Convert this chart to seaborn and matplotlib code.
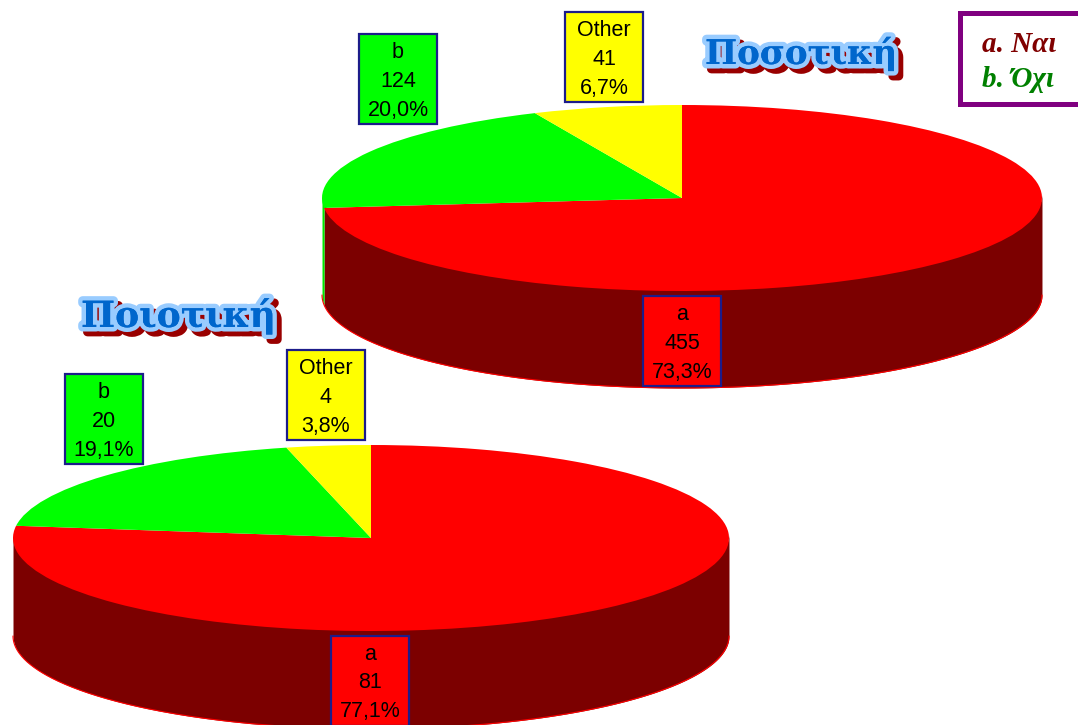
import numpy as np
import matplotlib
matplotlib.use("Agg")
import matplotlib.pyplot as plt
import matplotlib.patheffects as pe
from matplotlib.patches import Rectangle
import seaborn as sns

FIG_W, FIG_H = 1078, 725

# Survey answers per slice
slice_names = ["a", "b", "Other"]
quant_counts = [455, 124, 41]
quant_percent = [73.3, 20.0, 6.7]
qual_counts = [81, 20, 4]
qual_percent = [77.1, 19.1, 3.8]
quant_title = "Ποσοτική"
qual_title = "Ποιοτική"
legend_lines = ["a. Ναι", "b. Όχι"]

sns.set_theme(style="white", rc={"figure.facecolor": "white", "axes.facecolor": "none"})
plt.rcParams["font.family"] = ["Liberation Sans", "DejaVu Sans"]

top_colors = sns.color_palette(["#ff0000", "#00ff00", "#ffff00"])
side_colors = sns.color_palette(["#7c0000", "#00e800", "#ffff00"])

fig = plt.figure(figsize=(FIG_W / 100, FIG_H / 100), dpi=100)


def pixel_axes(left, top, width, height, zorder=1):
    ax = fig.add_axes([left / FIG_W, 1 - (top + height) / FIG_H, width / FIG_W, height / FIG_H])
    ax.set_zorder(zorder)
    ax.set_axis_off()
    return ax


def tilted_pie(cx, cy, rx, ry, depth, percents):
    """Flattened pie with a visible side wall below the front edge."""
    ax = pixel_axes(cx - rx, cy - ry, 2 * rx, 2 * ry + depth)
    drop = depth / ry

    # Side wall: front half of the ellipse, split where each slice ends.
    # The wall runs slightly under the top face so no seam shows between them.
    ends = 90 - 3.6 * np.cumsum(percents)
    starts = np.r_[90, ends[:-1]]
    for a0, a1, shade in zip(starts, ends, side_colors):
        theta = np.radians(np.linspace(a0, a1, 400))
        front = np.sin(theta) <= 0
        if front.any():
            xs, ys = np.cos(theta[front]), np.sin(theta[front])
            order = np.argsort(xs)
            ax.fill_between(xs[order], ys[order] - drop, ys[order] + 0.05,
                            color=shade, lw=0, zorder=1)

    # Thin bright rim along the lower edge of the wall
    t = np.radians(np.linspace(180, 360, 400))
    ax.plot(np.cos(t), np.sin(t) - drop, color="#ff0000", lw=0.8, zorder=2, clip_on=False)

    ax.pie(percents, colors=top_colors, startangle=90, counterclock=False,
           radius=1, wedgeprops={"linewidth": 0, "zorder": 3})
    ax.set_aspect("auto")
    ax.set_xlim(-1, 1)
    ax.set_ylim(-1 - drop, 1)
    ax.set_axis_off()


tilted_pie(682, 198, 360, 93, 97, quant_percent)
tilted_pie(371, 538, 358, 93, 98, qual_percent)

# Overlay in pixel units for the callouts, headings and key
overlay = pixel_axes(0, 0, FIG_W, FIG_H, zorder=5)
overlay.set_xlim(0, FIG_W)
overlay.set_ylim(FIG_H, 0)


def callout(left, top, name, count, pct, color):
    overlay.add_patch(Rectangle((left, top), 78, 90, facecolor=color,
                                edgecolor="#1c1c8a", lw=1.6, zorder=3, clip_on=False))
    text = [name, str(count), f"{pct:.1f}%".replace(".", ",")]
    for offset, line in zip((18, 47, 76), text):
        overlay.text(left + 39, top + offset, line, ha="center", va="center",
                     fontsize=15.5, color="#000000", zorder=4)


quant_boxes = [(643, 296), (359, 34), (565, 12)]
qual_boxes = [(331, 636), (65, 374), (287, 350)]
for boxes, counts, pcts in ((quant_boxes, quant_counts, quant_percent),
                            (qual_boxes, qual_counts, qual_percent)):
    for (left, top), name, count, pct, color in zip(boxes, slice_names, counts, pcts, top_colors):
        callout(left, top, name, count, pct, color)


def heading(x, y, label, size):
    overlay.text(x, y, label, ha="left", va="center", family="DejaVu Serif",
                 fontweight="bold", fontsize=size, color="#0066cc", zorder=4,
                 path_effects=[
                     pe.withStroke(linewidth=6.5, foreground="#990000", offset=(3.5, -3.5)),
                     pe.withStroke(linewidth=6.5, foreground="#99ccff"),
                     pe.Normal(),
                 ])


heading(705, 54, quant_title, 24.5)
heading(81, 316, qual_title, 26)

# Key for the slice letters
overlay.add_patch(Rectangle((960, 13), 130, 91, facecolor="white",
                            edgecolor="#800080", lw=3.6, zorder=3, clip_on=True))
for y, line, color in zip((44, 79), legend_lines, ("#800000", "#008000")):
    overlay.text(982, y, line, ha="left", va="center", family="Liberation Serif",
                 fontweight="bold", fontstyle="italic", fontsize=21, color=color, zorder=4)

fig.savefig("out.png", dpi=100)
